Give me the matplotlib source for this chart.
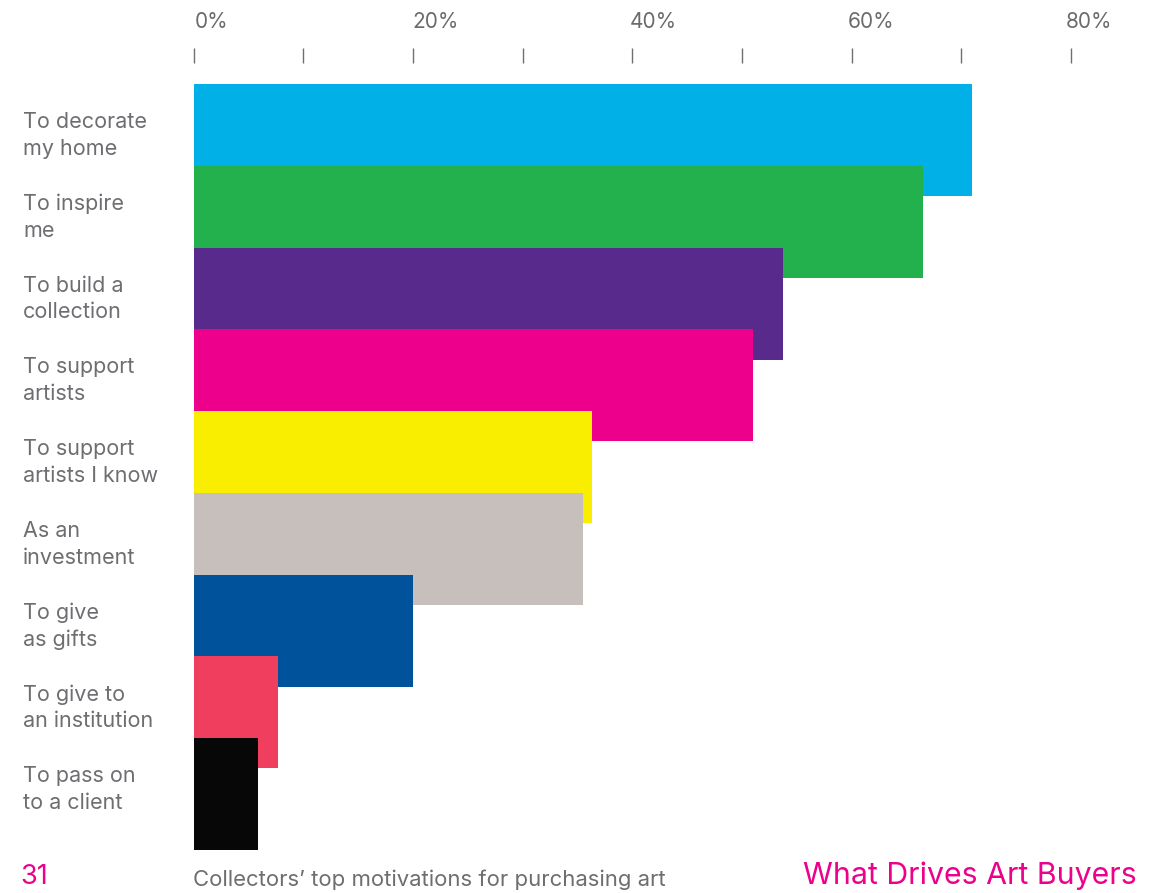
import matplotlib.pyplot as plt
import matplotlib.transforms as mtransforms

plt.rcParams['font.family'] = ['Inter', 'DejaVu Sans']

motivations = ['To decorate\nmy home', 'To inspire\nme', 'To build a\ncollection',
               'To support\nartists', 'To support\nartists I know', 'As an\ninvestment',
               'To give\nas gifts', 'To give to\nan institution', 'To pass on\nto a client']
share = [71, 66.5, 53.7, 51, 36.3, 35.5, 20, 7.7, 5.9]
colors = ['#00b0e6', '#23b14d', '#582a8c', '#ec008c', '#faee00',
          '#c7bfbc', '#00529b', '#ef3e5e', '#070707']
major_ticks = [0, 20, 40, 60, 80]
minor_ticks = [10, 30, 50, 70]

W, H = 1155, 893
fig = plt.figure(figsize=(W / 100, H / 100), dpi=100)

# axes placed in pixel terms: x=0 at 193.8px, 10% = 109.65px
x0, x1 = 193.8, 1100
y_top, y_bot = 63, 850
ax = fig.add_axes([x0 / W, 1 - y_bot / H, (x1 - x0) / W, (y_bot - y_top) / H])
ax.set_xlim(0, (x1 - x0) / 10.965)

step = 81.75
bar_h = 112 / step
ax.set_ylim(8 + 56 / step, (y_top - 140) / step)

ax.barh(range(len(share)), share, height=bar_h, color=colors, linewidth=0)

for s in ax.spines.values():
    s.set_visible(False)

ax.xaxis.tick_top()
ax.set_xticks(major_ticks)
ax.set_xticks(minor_ticks, minor=True)
ax.set_xticklabels([f'{t}%' for t in major_ticks])
ax.tick_params(axis='x', which='both', direction='out', length=10.5, width=1,
               color='#6f6f6f', pad=12)
ax.tick_params(axis='x', which='major', labelsize=15, labelcolor='#6b6b6b')
# labels sit just right of their tick, creeping slightly left further along
for k, lbl in enumerate(ax.get_xticklabels()):
    lbl.set_ha('left')
    lbl.set_transform(lbl.get_transform() +
                      mtransforms.ScaledTranslation((1 - 1.6 * k) / 100, 0, fig.dpi_scale_trans))
ax.set_yticks([])

trans = mtransforms.blended_transform_factory(fig.transFigure, ax.transData)
for i, name in enumerate(motivations):
    ax.text(23 / W, i - 0.055, name, transform=trans, ha='left', va='center',
            fontsize=15.5, color='#6d6e71', linespacing=1.42)

fig.text(20 / W, 1 - 877 / H, '31', ha='left', va='center',
         fontsize=19.5, color='#ec008c')
fig.text(193 / W, 1 - 880 / H, 'Collectors\u2019 top motivations for purchasing art',
         ha='left', va='center', fontsize=15.9, color='#6d6e71')
fig.text(1137 / W, 1 - 876 / H, 'What Drives Art Buyers', ha='right', va='center',
         fontsize=21.8, color='#ec008c')

fig.savefig('out.png', dpi=100)
